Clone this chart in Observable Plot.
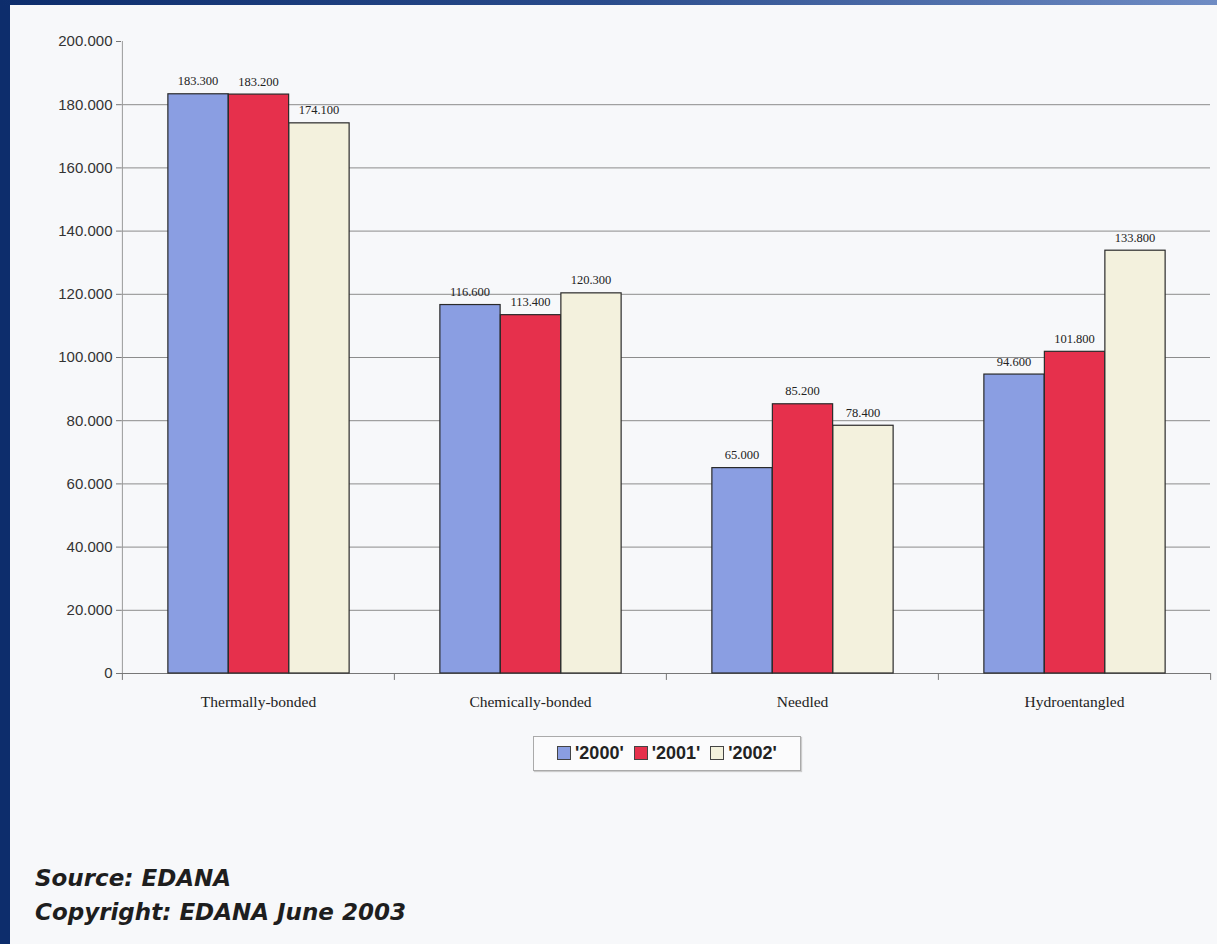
<!DOCTYPE html>
<html><head><meta charset="utf-8">
<script src="https://cdn.jsdelivr.net/npm/d3@7"></script>
<script src="https://cdn.jsdelivr.net/npm/@observablehq/plot@0.6"></script>
<style>
html,body{margin:0;padding:0;}
body{width:1217px;height:944px;background:#f7f8fa;position:relative;overflow:hidden;}
#left{position:absolute;left:0;top:0;width:10px;height:944px;background:#0d2d6c;}
#top{position:absolute;left:0;top:0;width:1217px;height:5px;background:linear-gradient(to right,#0d2d6c,#2a4c8c 50%,#6f8cc4);}
#chart{position:absolute;left:10px;top:5px;}
#legend{position:absolute;left:533px;top:736px;width:266px;height:33px;border:1px solid #aaa;box-shadow:1px 1px 1px #ccc;background:#fbfbfc;display:flex;align-items:center;justify-content:center;gap:10px;font-family:"Liberation Sans",Arial,sans-serif;font-weight:bold;font-size:18px;color:#222;}
#legend span.sw{display:inline-block;width:12px;height:12px;border:1px solid #444;margin-right:4px;vertical-align:-1px;}
#caption{position:absolute;left:35px;top:861px;font-family:"DejaVu Sans",Verdana,sans-serif;font-weight:bold;font-style:italic;font-size:23px;line-height:34px;color:#1e1e1e;}
</style></head>
<body>
<div id="left"></div><div id="top"></div>
<div id="chart"></div>
<div id="legend"></div>
<div id="caption">Source: EDANA<br>Copyright: EDANA June 2003</div>
<script>
const categories = ["Thermally-bonded","Chemically-bonded","Needled","Hydroentangled"];
const years = ["'2000'","'2001'","'2002'"];
const v2000 = [183300,116600,65000,94600];
const v2001 = [183200,113400,85200,101800];
const v2002 = [174100,120300,78400,133800];
const yTicks = [0,20000,40000,60000,80000,100000,120000,140000,160000,180000,200000];
const colors = ["#8a9ee2","#e6304c","#f3f1dd"];

const series = [v2000, v2001, v2002];
const fmt = d3.formatLocale({decimal:",",thousands:".",grouping:[3],currency:["",""]}).format(",");

const W = 1207, H = 715;
const mL = 111, mR = 7;
const band = (W - mL - mR) / categories.length;
const barW = 60.5;

const marks = [
  Plot.gridY(yTicks.filter(d => d > 0 && d < 200000), {stroke:"#8c8c8c", strokeOpacity:1, strokeWidth:1}),
  Plot.ruleX([0], {x: () => categories[0], dx: -band/2, y1: 0, y2: 200000, stroke:"#999"}),
  Plot.ruleY([0], {stroke:"#777"}),
  Plot.ruleX(categories, {x: d => d, dx: -band/2, y1: 0, y2: -2200, stroke:"#777"}),
  Plot.ruleX([categories[categories.length-1]], {x: d => d, dx: band/2, y1: 0, y2: -2200, stroke:"#777"})
];
series.forEach((vals, i) => {
  const data = categories.map((c, k) => ({category:c, value:vals[k]}));
  const off = (i - 1) * barW;
  const inset = (band - barW) / 2;
  marks.push(Plot.barY(data, {x:"category", y:"value", fill:colors[i], stroke:"#2a2a2a", strokeWidth:1.2,
    insetLeft: inset + off + 0.5, insetRight: inset - off - 0.5}));
  marks.push(Plot.text(data, {x:"category", y:"value", text: d => fmt(d.value), dx: off, dy: -13,
    fontFamily:"Liberation Serif, serif", fontSize:12.5, fill:"#222"}));
});

const chart = Plot.plot({
  width: W, height: H,
  marginLeft: mL, marginRight: mR, marginTop: 36, marginBottom: 47,
  x: {domain: categories, padding: 0, axis: null},
  y: {domain: [0, 200000], axis: null},
  style: {background: "transparent", overflow: "visible"},
  marks: [
    ...marks,
    Plot.axisY({ticks: yTicks, tickFormat: d => fmt(d), tickSize: 5, tickPadding: 4, stroke:"#777", label: null,
      fontFamily:"Liberation Sans, Arial, sans-serif", fontSize: 15, fill:"#333"}),
    Plot.axisX({tickSize: 0, tickPadding: 22, fontFamily:"Liberation Serif, serif", fontSize: 15.5, fill:"#222", label: null})
  ]
});
document.getElementById("chart").appendChild(chart);

const lg = document.getElementById("legend");
years.forEach((y, i) => {
  const item = document.createElement("div");
  item.innerHTML = `<span class="sw" style="background:${colors[i]}"></span>${y}`;
  lg.appendChild(item);
});
</script>
</body></html>
